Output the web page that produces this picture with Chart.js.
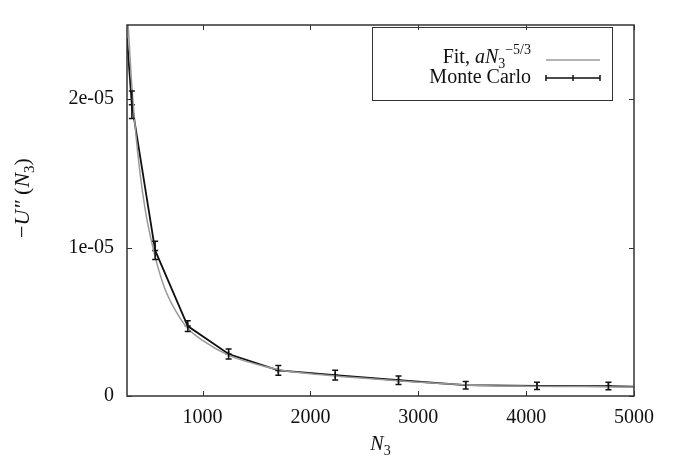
<!DOCTYPE html>
<html>
<head>
<meta charset="utf-8">
<script src="https://cdn.jsdelivr.net/npm/chart.js@4.4.1/dist/chart.umd.min.js"></script>
<style>
  html, body { margin: 0; padding: 0; background: #fff; }
  #wrap { width: 679px; height: 458px; }
</style>
</head>
<body>
<div id="wrap"><canvas id="curveChart" width="679" height="458"></canvas></div>
<script>
// Monte Carlo points (N3, -U'' and its error)
const nValues = [300, 345, 561, 863, 1242, 1703, 2230, 2817, 3440, 4101, 4763, 5000];
const mcValues = [2.41e-5, 1.963e-5, 0.981e-5, 0.471e-5, 0.283e-5, 0.172e-5, 0.140e-5, 0.106e-5, 0.073e-5, 0.068e-5, 0.067e-5, 0.063e-5];
const mcErrors = [0, 0.093e-5, 0.062e-5, 0.036e-5, 0.033e-5, 0.033e-5, 0.033e-5, 0.029e-5, 0.025e-5, 0.024e-5, 0.025e-5, 0];

// fit curve
const fitN = [300, 340, 380, 420, 470, 520, 580, 650, 750, 860, 1000, 1250, 1500, 1750, 2000, 2500, 3000, 3500, 4000, 4500, 5000];
const fitValues = [2.64e-5, 2.14e-5, 1.78e-5, 1.507e-5, 1.25e-5, 1.065e-5, 0.885e-5, 0.725e-5, 0.575e-5, 0.458e-5, 0.375e-5, 0.272e-5, 0.214e-5, 0.172e-5, 0.150e-5, 0.119e-5, 0.093e-5, 0.073e-5, 0.066e-5, 0.064e-5, 0.060e-5];

const xTicks = [1000, 2000, 3000, 4000, 5000];
const yTicks = [0, 1e-5, 2e-5];
const yTickLabels = ['0', '1e-05', '2e-05'];

const serif = '"Liberation Serif", "DejaVu Serif", serif';
const frameColor = '#333';

function drawRuns(ctx, runs, x, y, align) {
    // runs: [text, italic, size, dy]
    let total = 0;
    runs.forEach(function(r) {
        ctx.font = (r[1] ? 'italic ' : '') + r[2] + 'px ' + serif;
        total += ctx.measureText(r[0]).width;
    });
    let cx = align === 'right' ? x - total : (align === 'center' ? x - total / 2 : x);
    ctx.textAlign = 'left';
    ctx.textBaseline = 'alphabetic';
    runs.forEach(function(r) {
        ctx.font = (r[1] ? 'italic ' : '') + r[2] + 'px ' + serif;
        ctx.fillText(r[0], cx, y + r[3]);
        cx += ctx.measureText(r[0]).width;
    });
}

const frameAndBars = {
    id: 'frameAndBars',
    afterDatasetsDraw: function(chart) {
        const ctx = chart.ctx;
        const xs = chart.scales.x;
        const ys = chart.scales.y;
        const area = chart.chartArea;

        // error bars
        ctx.save();
        ctx.beginPath();
        ctx.rect(area.left, area.top, area.right - area.left, area.bottom - area.top);
        ctx.clip();
        ctx.strokeStyle = '#111';
        ctx.lineWidth = 1.5;
        nValues.forEach(function(n, i) {
            if (!mcErrors[i]) return;
            const px = xs.getPixelForValue(n);
            const top = ys.getPixelForValue(mcValues[i] + mcErrors[i]);
            const bot = ys.getPixelForValue(mcValues[i] - mcErrors[i]);
            ctx.beginPath();
            ctx.moveTo(px, top); ctx.lineTo(px, bot);
            ctx.moveTo(px - 3, top); ctx.lineTo(px + 3, top);
            ctx.moveTo(px - 3, bot); ctx.lineTo(px + 3, bot);
            ctx.stroke();
        });
        ctx.restore();

        // border and inward ticks
        ctx.save();
        ctx.strokeStyle = frameColor;
        ctx.lineWidth = 1.5;
        ctx.strokeRect(area.left, area.top, area.right - area.left, area.bottom - area.top);
        ctx.lineWidth = 1;
        ctx.beginPath();
        xTicks.forEach(function(t) {
            const px = Math.round(xs.getPixelForValue(t)) + 0.5;
            ctx.moveTo(px, area.bottom); ctx.lineTo(px, area.bottom - 5);
            ctx.moveTo(px, area.top); ctx.lineTo(px, area.top + 5);
        });
        yTicks.forEach(function(t) {
            const py = Math.round(ys.getPixelForValue(t)) + 0.5;
            ctx.moveTo(area.left, py); ctx.lineTo(area.left + 5, py);
            ctx.moveTo(area.right, py); ctx.lineTo(area.right - 5, py);
        });
        ctx.stroke();
        ctx.restore();

        // axis titles
        ctx.save();
        ctx.fillStyle = '#111';
        drawRuns(ctx, [['N', true, 20, 0], ['3', false, 14, 5]], (area.left + area.right) / 2, 450, 'center');
        ctx.translate(29, 198);
        ctx.rotate(-Math.PI / 2);
        drawRuns(ctx, [['\u2212', false, 22, 0], ['U\u2033', true, 22, 0], [' (', false, 22, 0], ['N', true, 22, 0], ['3', false, 15, 5], [')', false, 22, 0]], 0, 0, 'center');
        ctx.restore();

        // legend
        ctx.save();
        ctx.strokeStyle = frameColor;
        ctx.lineWidth = 1;
        ctx.strokeRect(372.5, 27.5, 240, 73);
        ctx.fillStyle = '#111';
        drawRuns(ctx, [['Fit, ', false, 20, 0], ['aN', true, 20, 0], ['3', false, 14, 5], ['\u22125/3', false, 14, -9]], 531, 63, 'right');
        drawRuns(ctx, [['Monte Carlo', false, 20, 0]], 531, 83, 'right');
        ctx.strokeStyle = '#999';
        ctx.lineWidth = 1.5;
        ctx.beginPath(); ctx.moveTo(546, 60); ctx.lineTo(600, 60); ctx.stroke();
        ctx.strokeStyle = '#111';
        ctx.beginPath();
        ctx.moveTo(546, 78); ctx.lineTo(600, 78);
        ctx.moveTo(546, 75); ctx.lineTo(546, 81);
        ctx.moveTo(600, 75); ctx.lineTo(600, 81);
        ctx.moveTo(573, 75); ctx.lineTo(573, 81);
        ctx.stroke();
        ctx.restore();
    }
};

const ctx = document.getElementById('curveChart').getContext('2d');
const curveChart = new Chart(ctx, {
    type: 'line',
    data: {
        datasets: [{
            label: 'Fit',
            data: fitN.map(function(n, i) { return { x: n, y: fitValues[i] }; }),
            borderColor: '#999',
            borderWidth: 1.5,
            pointRadius: 0,
            cubicInterpolationMode: 'monotone',
            fill: false
        }, {
            label: 'Monte Carlo',
            data: nValues.map(function(n, i) { return { x: n, y: mcValues[i] }; }),
            borderColor: '#111',
            borderWidth: 1.8,
            tension: 0,
            pointStyle: 'cross',
            pointRadius: mcErrors.map(function(e) { return e ? 3 : 0; }),
            pointBorderColor: '#111',
            pointBorderWidth: 1.5,
            fill: false
        }]
    },
    options: {
        responsive: false,
        animation: false,
        layout: { padding: { top: 12, right: 45, left: 0, bottom: 0 } },
        plugins: {
            legend: { display: false },
            tooltip: { enabled: false }
        },
        scales: {
            x: {
                type: 'linear',
                min: 300,
                max: 5000,
                grid: { display: false, drawTicks: false },
                border: { display: false },
                afterBuildTicks: function(scale) {
                    scale.ticks = xTicks.map(function(v) { return { value: v }; });
                },
                afterFit: function(scale) { scale.height = 62; },
                ticks: {
                    autoSkip: false,
                    maxRotation: 0,
                    padding: 10,
                    color: '#111',
                    font: { family: serif, size: 20 },
                    callback: function(v) { return String(v); }
                }
            },
            y: {
                type: 'linear',
                min: 0,
                max: 2.5e-5,
                grid: { display: false, drawTicks: false },
                border: { display: false },
                afterBuildTicks: function(scale) {
                    scale.ticks = yTicks.map(function(v) { return { value: v }; });
                },
                afterFit: function(scale) { scale.width = 127; },
                ticks: {
                    autoSkip: false,
                    padding: 13,
                    color: '#111',
                    font: { family: serif, size: 20 },
                    callback: function(v) {
                        const i = yTicks.indexOf(v);
                        return i >= 0 ? yTickLabels[i] : '';
                    }
                }
            }
        }
    },
    plugins: [frameAndBars]
});
</script>
</body>
</html>
